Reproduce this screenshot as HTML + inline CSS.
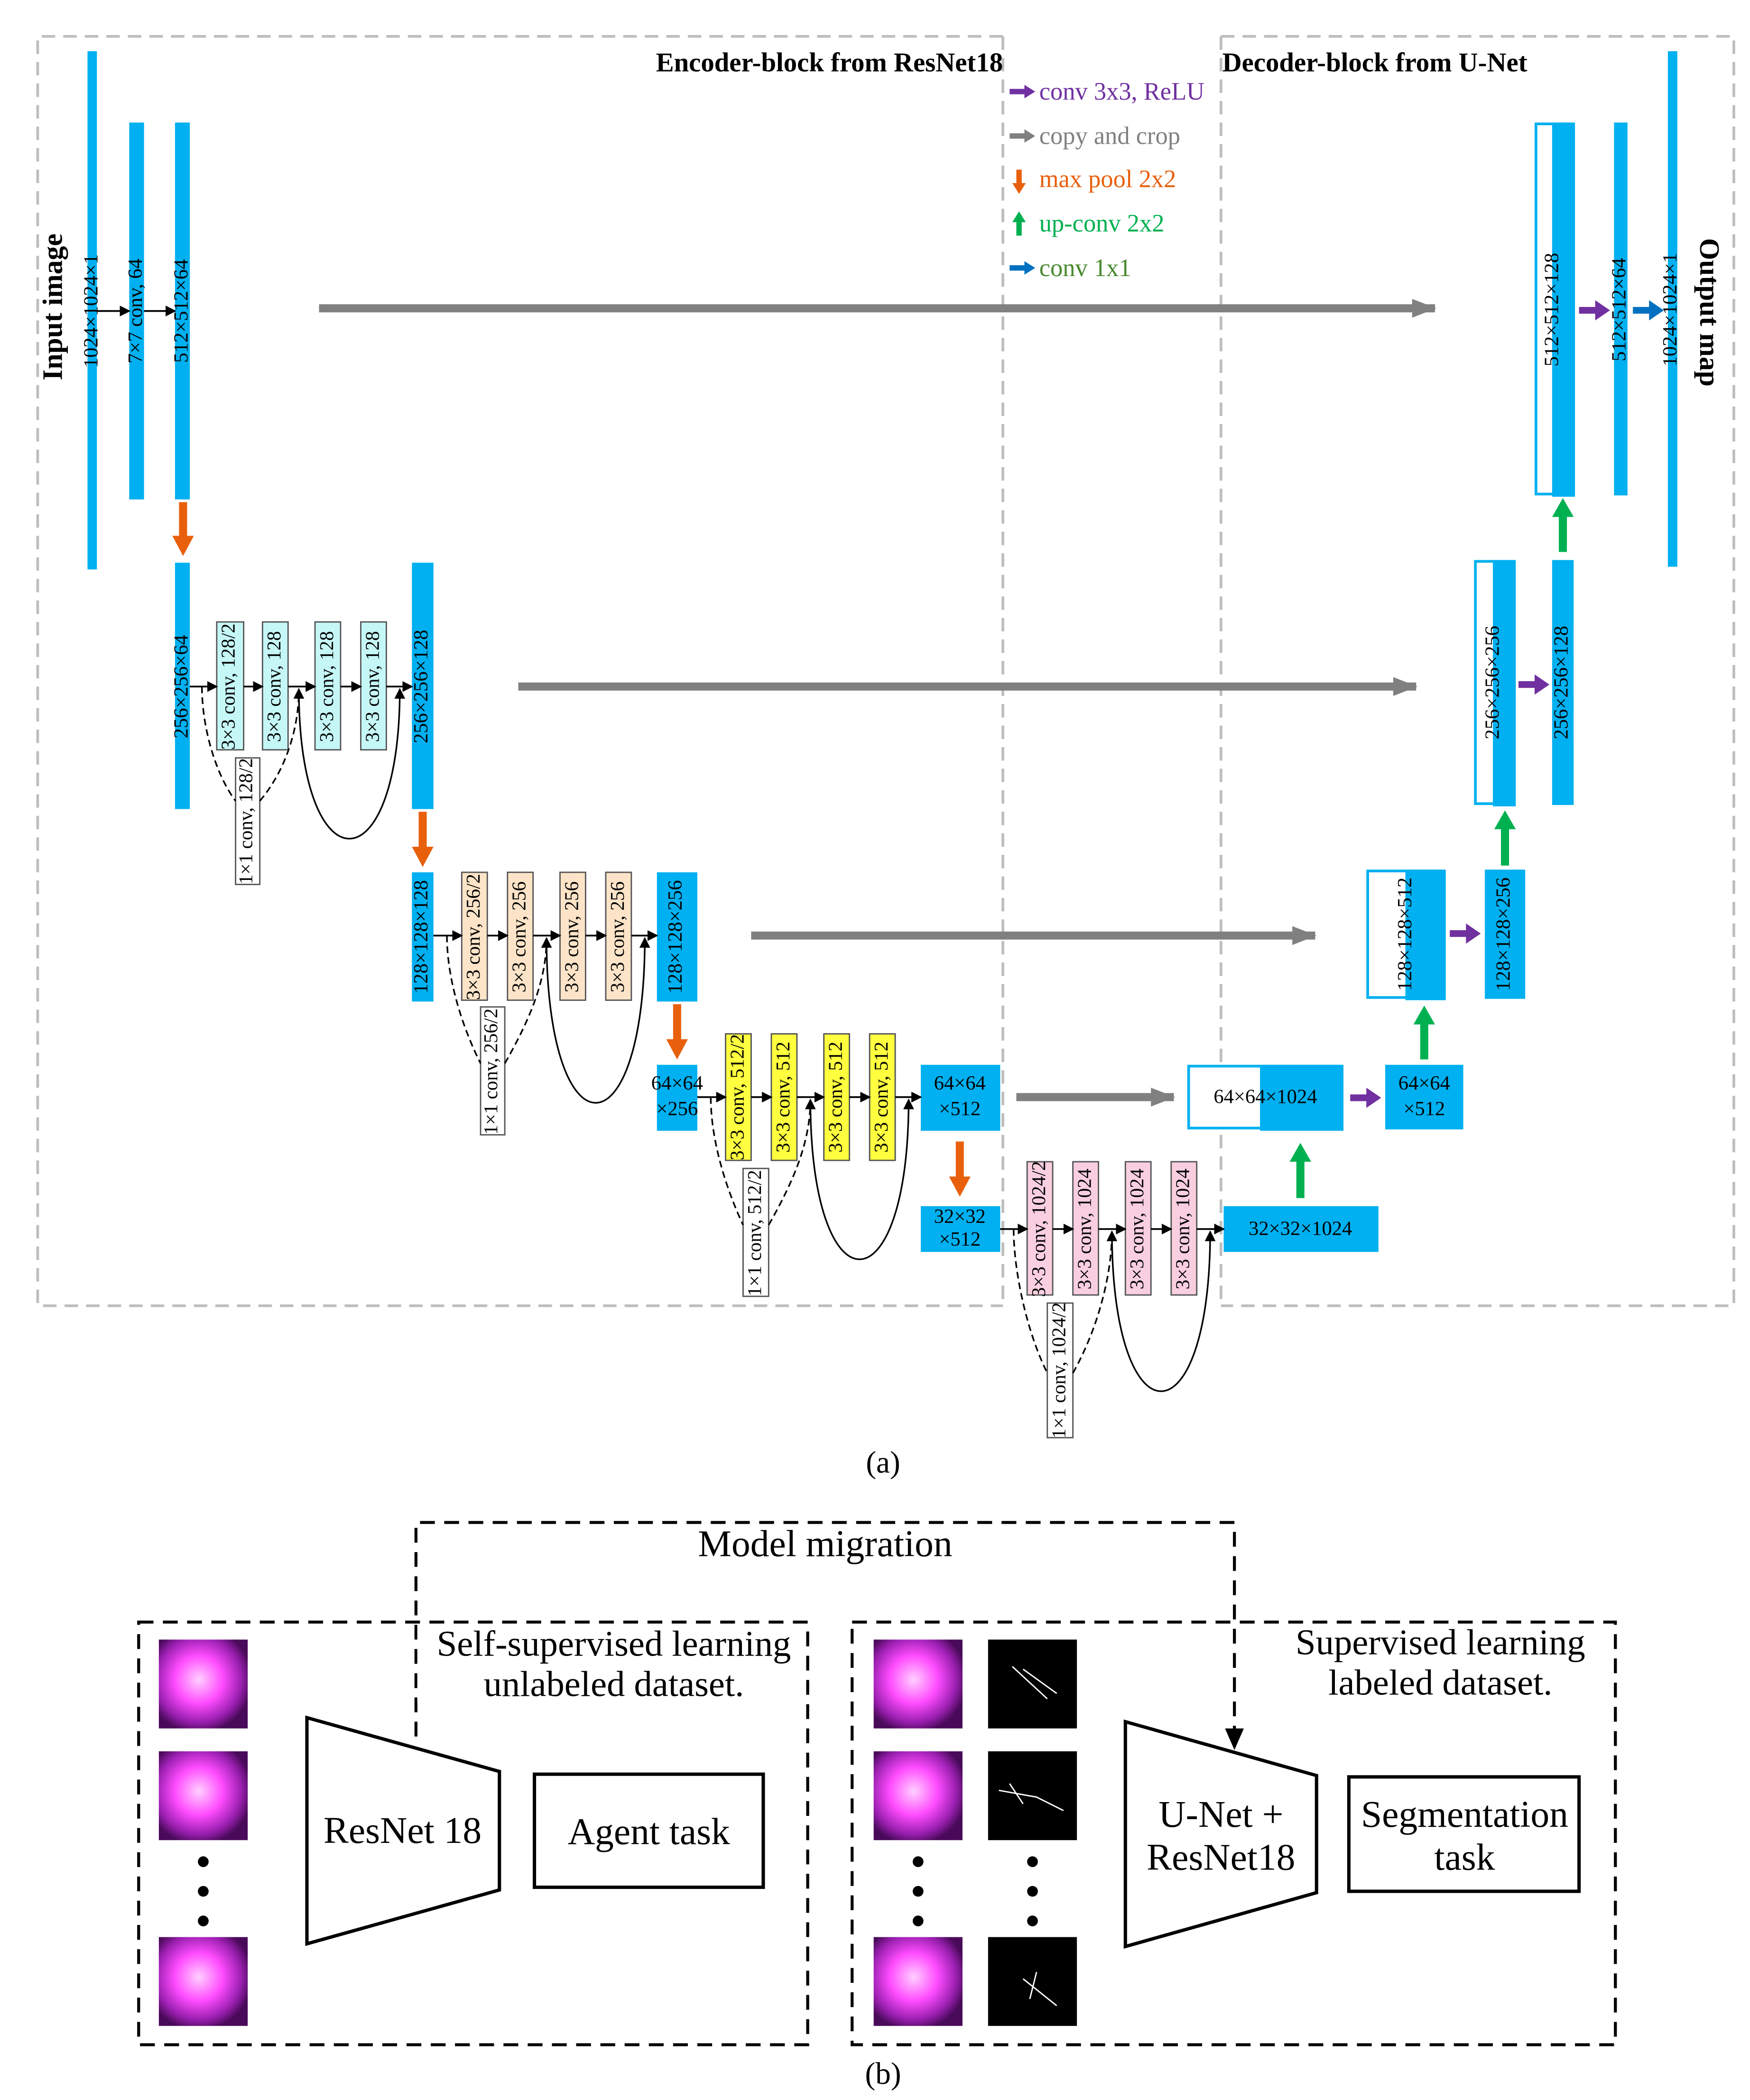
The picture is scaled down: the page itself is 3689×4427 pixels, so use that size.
<!DOCTYPE html>
<html><head><meta charset="utf-8"><style>
html,body{margin:0;padding:0;background:#fff;}
svg{display:block;}
text{font-family:"Liberation Serif",serif;}
</style></head><body>
<svg width="3689" height="4427" viewBox="0 0 1300 1560" xmlns="http://www.w3.org/2000/svg">
<defs>
<marker id="ah" markerWidth="8" markerHeight="8" refX="7" refY="4" orient="auto" markerUnits="userSpaceOnUse"><path d="M0,0 L8,4 L0,8 z" fill="#000"/></marker>
<marker id="ag" markerWidth="18" markerHeight="14" refX="17" refY="7" orient="auto" markerUnits="userSpaceOnUse"><path d="M0,0 L18,7 L0,14 z" fill="#808080"/></marker>
<radialGradient id="mg" cx="0.45" cy="0.45" r="0.6"><stop offset="0" stop-color="#ffd0ff"/><stop offset="0.45" stop-color="#ff4cff"/><stop offset="0.8" stop-color="#9a1fb0"/><stop offset="1" stop-color="#4a0a5a"/></radialGradient>
</defs>
<g fill="none" stroke="#bdbdbd" stroke-width="2" stroke-dasharray="10,6">
<path d="M745,27 L28,27 L28,970 L745,970 M745,27 L745,970 M907,27 L1288,27 L1288,970 L907,970 M907,27 L907,970"/>
</g>
<text x="745" y="53" font-size="20" font-weight="bold" text-anchor="end">Encoder-block from ResNet18</text>
<text x="908" y="53" font-size="20" font-weight="bold">Decoder-block from U-Net</text>
<!-- legend -->
<g font-size="18.5">
<path d="M750,68 L762,68" stroke="#7030a0" stroke-width="4"/><path d="M761,63 L769,68 L761,73z" fill="#7030a0"/>
<text x="772" y="74" fill="#7030a0">conv 3x3, ReLU</text>
<path d="M750,101 L762,101" stroke="#808080" stroke-width="4"/><path d="M761,96 L769,101 L761,106z" fill="#808080"/>
<text x="772" y="107" fill="#808080">copy and crop</text>
<path d="M757,126 L757,137" stroke="#e8600c" stroke-width="4"/><path d="M752,136 L757,144 L762,136z" fill="#e8600c"/>
<text x="772" y="139" fill="#e8600c">max pool 2x2</text>
<path d="M757,175 L757,164" stroke="#00b050" stroke-width="4"/><path d="M752,165 L757,157 L762,165z" fill="#00b050"/>
<text x="772" y="172" fill="#00b050">up-conv 2x2</text>
<path d="M750,199 L762,199" stroke="#0070c0" stroke-width="4"/><path d="M761,194 L769,199 L761,204z" fill="#0070c0"/>
<text x="772" y="205" fill="#4a8a30">conv 1x1</text>
</g>
<text transform="translate(46,228) rotate(-90)" font-size="21" font-weight="bold" text-anchor="middle">Input image</text>
<text transform="translate(1263,232) rotate(90)" font-size="21" font-weight="bold" text-anchor="middle">Output map</text>
<!-- gray copy arrows -->
<g stroke="#808080" stroke-width="6" marker-end="url(#ag)">
<path d="M237,229 L1066,229"/><path d="M385,510 L1052,510"/><path d="M558,695 L977,695"/><path d="M755,815 L872,815"/>
</g>
<!-- blue bars -->
<g fill="#00b0f0">
<rect x="65" y="38" width="7" height="385"/>
<rect x="96" y="91" width="11" height="280"/>
<rect x="130" y="91" width="11" height="280"/>
<rect x="130" y="418" width="11" height="183"/>
<rect x="306" y="418" width="16" height="183"/>
<rect x="306" y="648" width="16" height="96"/>
<rect x="488" y="648" width="30" height="96"/>
<rect x="488" y="791" width="30" height="49"/>
<rect x="684" y="791" width="59" height="49"/>
<rect x="684" y="896" width="59" height="34"/>
<rect x="909" y="896" width="115" height="34"/>
<rect x="1029" y="791" width="58" height="48"/>
<rect x="1103" y="646" width="30" height="96"/>
<rect x="1153" y="416" width="16" height="182"/>
<rect x="1199" y="91" width="10" height="277"/>
<rect x="1239" y="38" width="7" height="383"/>
</g>
<!-- decoder concat boxes -->
<g stroke="#00b0f0" stroke-width="2">
<rect x="883" y="792" width="113" height="46" fill="#fff"/><rect x="937" y="792" width="60" height="47" fill="#00b0f0"/>
<rect x="1016" y="647" width="56" height="94" fill="#fff"/><rect x="1045" y="647" width="28" height="95" fill="#00b0f0"/>
<rect x="1096" y="417" width="28" height="180" fill="#fff"/><rect x="1110" y="417" width="15" height="181" fill="#00b0f0"/>
<rect x="1141" y="92" width="27" height="275" fill="#fff"/><rect x="1154" y="92" width="15" height="276" fill="#00b0f0"/>
</g>
<!-- bar labels -->
<g font-size="15" text-anchor="middle" dominant-baseline="middle">
<text transform="translate(69,231) rotate(-90)">1024×1024×1</text>
<text transform="translate(102,231) rotate(-90)">7×7 conv, 64</text>
<text transform="translate(136,231) rotate(-90)">512×512×64</text>
<text transform="translate(136,510) rotate(-90)">256×256×64</text>
<text transform="translate(314,510) rotate(-90)">256×256×128</text>
<text transform="translate(314,696) rotate(-90)">128×128×128</text>
<text transform="translate(503,696) rotate(-90)">128×128×256</text>
<text x="503" y="806">64×64</text><text x="503" y="825">×256</text>
<text x="713" y="806">64×64</text><text x="713" y="825">×512</text>
<text x="713" y="905">32×32</text><text x="713" y="922">×512</text>
<text x="966" y="914">32×32×1024</text>
<text x="940" y="816">64×64×1024</text>
<text x="1058" y="806">64×64</text><text x="1058" y="825">×512</text>
<text transform="translate(1045,694) rotate(-90)">128×128×512</text>
<text transform="translate(1118,694) rotate(-90)">128×128×256</text>
<text transform="translate(1110,507) rotate(-90)">256×256×256</text>
<text transform="translate(1161,507) rotate(-90)">256×256×128</text>
<text transform="translate(1154,230) rotate(-90)">512×512×128</text>
<text transform="translate(1204,230) rotate(-90)">512×512×64</text>
<text transform="translate(1242,230) rotate(-90)">1024×1024×1</text>
</g>
<!-- conv boxes -->
<g stroke="#555" stroke-width="1">
<g fill="#c6f7f7"><rect x="161" y="462" width="20" height="95"/><rect x="195" y="462" width="19" height="95"/><rect x="234" y="462" width="19" height="95"/><rect x="268" y="462" width="19" height="95"/></g>
<g fill="#fde4c8"><rect x="343" y="648" width="19" height="95"/><rect x="377" y="648" width="19" height="95"/><rect x="416" y="648" width="19" height="95"/><rect x="450" y="648" width="19" height="95"/></g>
<g fill="#ffff40"><rect x="539" y="768" width="19" height="94"/><rect x="573" y="768" width="19" height="94"/><rect x="612" y="768" width="19" height="94"/><rect x="646" y="768" width="19" height="94"/></g>
<g fill="#f9cfe0"><rect x="763" y="863" width="19" height="99"/><rect x="797" y="863" width="19" height="99"/><rect x="836" y="863" width="19" height="99"/><rect x="870" y="863" width="19" height="99"/></g>
<g fill="#fff"><rect x="175" y="563" width="18" height="94"/><rect x="357" y="748" width="18" height="95"/><rect x="552" y="868" width="19" height="95"/><rect x="778" y="968" width="19" height="100"/></g>
</g>
<g font-size="14.5" text-anchor="middle" dominant-baseline="middle">
<text transform="translate(171,510) rotate(-90)">3×3 conv, 128/2</text>
<text transform="translate(205,510) rotate(-90)">3×3 conv, 128</text>
<text transform="translate(244,510) rotate(-90)">3×3 conv, 128</text>
<text transform="translate(278,510) rotate(-90)">3×3 conv, 128</text>
<text transform="translate(184,610) rotate(-90)">1×1 conv, 128/2</text>
<text transform="translate(353,696) rotate(-90)">3×3 conv, 256/2</text>
<text transform="translate(387,696) rotate(-90)">3×3 conv, 256</text>
<text transform="translate(426,696) rotate(-90)">3×3 conv, 256</text>
<text transform="translate(460,696) rotate(-90)">3×3 conv, 256</text>
<text transform="translate(366,796) rotate(-90)">1×1 conv, 256/2</text>
<text transform="translate(549,815) rotate(-90)">3×3 conv, 512/2</text>
<text transform="translate(583,815) rotate(-90)">3×3 conv, 512</text>
<text transform="translate(622,815) rotate(-90)">3×3 conv, 512</text>
<text transform="translate(656,815) rotate(-90)">3×3 conv, 512</text>
<text transform="translate(562,916) rotate(-90)">1×1 conv, 512/2</text>
<text transform="translate(773,913) rotate(-90)">3×3 conv, 1024/2</text>
<text transform="translate(807,913) rotate(-90)">3×3 conv, 1024</text>
<text transform="translate(846,913) rotate(-90)">3×3 conv, 1024</text>
<text transform="translate(880,913) rotate(-90)">3×3 conv, 1024</text>
<text transform="translate(788,1018) rotate(-90)">1×1 conv, 1024/2</text>
</g>
<!-- small black arrows -->
<g stroke="#000" stroke-width="1.3" marker-end="url(#ah)" fill="none">
<path d="M72,231 L96,231"/><path d="M107,231 L130,231"/>
<path d="M141,510 L161,510"/><path d="M181,510 L195,510"/><path d="M214,510 L234,510"/><path d="M253,510 L268,510"/><path d="M287,510 L306,510"/>
<path d="M322,695 L343,695"/><path d="M362,695 L377,695"/><path d="M396,695 L416,695"/><path d="M435,695 L450,695"/><path d="M469,695 L488,695"/>
<path d="M518,815 L539,815"/><path d="M558,815 L573,815"/><path d="M592,815 L612,815"/><path d="M631,815 L646,815"/><path d="M665,815 L684,815"/>
<path d="M743,913 L763,913"/><path d="M782,913 L797,913"/><path d="M816,913 L836,913"/><path d="M855,913 L870,913"/><path d="M889,913 L909,913"/>
</g>
<!-- arcs -->
<g stroke="#000" stroke-width="1.2" fill="none">
<path d="M150,510 C150,540 160,575 175,595" stroke-dasharray="5,3"/>
<path d="M193,595 C210,575 222,545 222,512" stroke-dasharray="5,3" marker-end="url(#ah)"/>
<path d="M222,512 C222,660 297,660 297,512" marker-end="url(#ah)"/>
<path d="M332,695 C332,725 342,760 357,790" stroke-dasharray="5,3"/>
<path d="M375,790 C392,760 406,730 406,697" stroke-dasharray="5,3" marker-end="url(#ah)"/>
<path d="M406,697 C406,860 479,860 479,697" marker-end="url(#ah)"/>
<path d="M528,815 C528,845 538,880 552,910" stroke-dasharray="5,3"/>
<path d="M571,910 C588,880 602,850 602,817" stroke-dasharray="5,3" marker-end="url(#ah)"/>
<path d="M602,817 C602,975 675,975 675,817" marker-end="url(#ah)"/>
<path d="M753,913 C753,945 763,990 778,1020" stroke-dasharray="5,3"/>
<path d="M797,1020 C814,990 826,950 826,915" stroke-dasharray="5,3" marker-end="url(#ah)"/>
<path d="M826,915 C826,1073 899,1073 899,915" marker-end="url(#ah)"/>
</g>
<!-- orange maxpool -->
<g fill="#e8600c">
<rect x="133" y="373" width="6" height="26"/><path d="M128,398 L136,413 L144,398z"/>
<rect x="311" y="603" width="6" height="27"/><path d="M306,629 L314,644 L322,629z"/>
<rect x="500" y="746" width="6" height="27"/><path d="M495,772 L503,787 L511,772z"/>
<rect x="710" y="848" width="6" height="27"/><path d="M705,874 L713,889 L721,874z"/>
</g>
<!-- green upconv -->
<g fill="#00b050">
<rect x="963" y="862" width="6" height="28"/><path d="M958,863 L966,849 L974,863z"/>
<rect x="1055" y="760" width="6" height="27"/><path d="M1050,761 L1058,747 L1066,761z"/>
<rect x="1115" y="615" width="6" height="28"/><path d="M1110,616 L1118,602 L1126,616z"/>
<rect x="1158" y="383" width="6" height="27"/><path d="M1153,384 L1161,370 L1169,384z"/>
</g>
<!-- purple -->
<g fill="#7030a0">
<rect x="1003" y="813" width="14" height="5"/><path d="M1015,808 L1026,815.5 L1015,823z"/>
<rect x="1077" y="691" width="14" height="5"/><path d="M1089,686 L1100,693.5 L1089,701z"/>
<rect x="1128" y="506" width="14" height="5"/><path d="M1140,501 L1151,508.5 L1140,516z"/>
<rect x="1173" y="228" width="14" height="5"/><path d="M1185,223 L1196,230.5 L1185,238z"/>
</g>
<g fill="#0070c0"><rect x="1213" y="228" width="14" height="5"/><path d="M1225,223 L1236,230.5 L1225,238z"/></g>
<text x="656" y="1094" font-size="23" text-anchor="middle">(a)</text>
<!-- part b -->
<g fill="none" stroke="#000" stroke-width="2.2" stroke-dasharray="11,7">
<path d="M309,1290 L309,1131 L917,1131 L917,1285"/>
<rect x="103" y="1205" width="497" height="314"/>
<rect x="633" y="1205" width="567" height="314"/>
</g>
<path d="M910,1284 L917,1300 L924,1284z" fill="#000"/>
<rect x="500" y="1136" width="230" height="28" fill="#fff"/>
<text x="613" y="1156" font-size="28" text-anchor="middle">Model migration</text>
<rect x="310" y="1207" width="288" height="58" fill="#fff"/>
<text x="456" y="1230" font-size="27" text-anchor="middle">Self-supervised learning</text>
<text x="456" y="1260" font-size="27" text-anchor="middle">unlabeled dataset.</text>
<text x="1070" y="1229" font-size="27" text-anchor="middle">Supervised learning</text>
<text x="1070" y="1259" font-size="27" text-anchor="middle">labeled dataset.</text>
<g>
<rect x="118" y="1218" width="66" height="66" fill="url(#mg)"/>
<rect x="118" y="1301" width="66" height="66" fill="url(#mg)"/>
<rect x="118" y="1439" width="66" height="66" fill="url(#mg)"/>
<rect x="649" y="1218" width="66" height="66" fill="url(#mg)"/>
<rect x="649" y="1301" width="66" height="66" fill="url(#mg)"/>
<rect x="649" y="1439" width="66" height="66" fill="url(#mg)"/>
<rect x="734" y="1218" width="66" height="66" fill="#000"/>
<rect x="734" y="1301" width="66" height="66" fill="#000"/>
<rect x="734" y="1439" width="66" height="66" fill="#000"/>
</g>
<g stroke="#fff" stroke-width="1" fill="none">
<path d="M752,1238 L778,1262 M760,1240 L785,1258"/>
<path d="M742,1330 L770,1335 L790,1345 M750,1325 L760,1340"/>
<path d="M760,1470 L785,1490 M770,1465 L765,1485"/>
</g>
<g fill="#000">
<circle cx="151" cy="1383" r="4"/><circle cx="151" cy="1405" r="4"/><circle cx="151" cy="1427" r="4"/>
<circle cx="682" cy="1383" r="4"/><circle cx="682" cy="1405" r="4"/><circle cx="682" cy="1427" r="4"/>
<circle cx="767" cy="1383" r="4"/><circle cx="767" cy="1405" r="4"/><circle cx="767" cy="1427" r="4"/>
</g>
<g fill="none" stroke="#000" stroke-width="2.5">
<path d="M228,1276 L371,1316 L371,1404 L228,1444 Z"/>
<rect x="397" y="1318" width="170" height="84"/>
<path d="M836,1279 L978,1319 L978,1406 L836,1446 Z"/>
<rect x="1002" y="1320" width="171" height="85"/>
</g>
<g font-size="28" text-anchor="middle">
<text x="299" y="1369">ResNet 18</text>
<text x="482" y="1370">Agent task</text>
<text x="907" y="1357">U-Net +</text>
<text x="907" y="1389">ResNet18</text>
<text x="1088" y="1357">Segmentation</text>
<text x="1088" y="1389">task</text>
</g>
<text x="656" y="1548" font-size="23" text-anchor="middle">(b)</text>
</svg>
</body></html>
